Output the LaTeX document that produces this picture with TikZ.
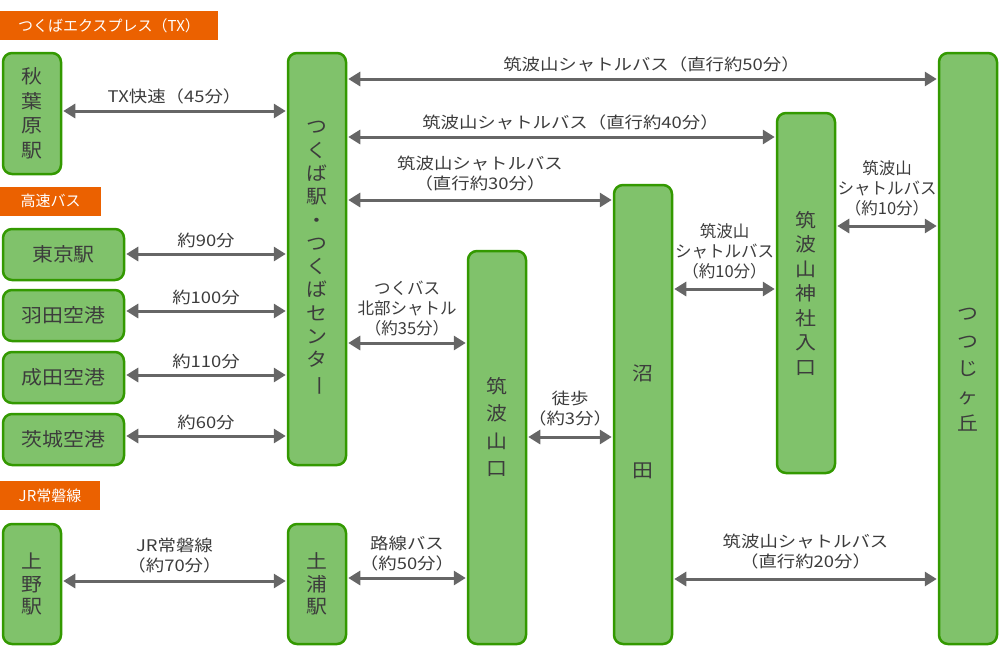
\documentclass[tikz,border=0pt]{standalone}
\usepackage{fontspec}
\setmainfont{Noto Sans CJK JP}
\newfontfamily\notefont{Noto Sans CJK JP}[FakeStretch=1.15]
\newfontfamily\stationfont{Noto Sans CJK JP}[FakeStretch=1.1]
\usepackage{graphicx}
\usetikzlibrary{arrows.meta}
\definecolor{boxgreen}{HTML}{80C26B}
\definecolor{boxedge}{HTML}{339900}
\definecolor{tagorange}{HTML}{EB6100}
\definecolor{arrowgray}{HTML}{666666}
\definecolor{textgray}{HTML}{3C3C3C}
\begin{document}
\begin{tikzpicture}[x=1pt,y=-1pt]
\tikzset{station/.style = {shape=rectangle,rounded corners=9pt,draw=boxedge,fill=boxgreen,line width=2.5pt,text=textgray,inner sep=0pt,align=center,font=\stationfont\fontsize{19}{24.5}\selectfont}}
\tikzset{tall/.style = {station,minimum width=58pt}}
\tikzset{wide/.style = {station,minimum width=121pt,minimum height=51pt}}
\tikzset{stext/.style = {text=textgray,inner sep=0pt,align=center}}
\tikzset{tag/.style = {fill=tagorange,text=white,inner sep=0pt,minimum height=29pt,font=\fontsize{15}{18}\selectfont}}
\tikzset{edge/.style = {<->,> = {Triangle[length=12pt,width=14pt]},draw=arrowgray,line width=3pt,shorten <=1pt,shorten >=1pt}}
\tikzset{note/.style = {text=textgray,inner sep=0pt,above=5pt,align=center,font=\notefont\fontsize{16}{20.5}\selectfont}}
\tikzset{narrownote/.style = {note,font=\fontsize{16.5}{20}\selectfont}}
\useasboundingbox (0,0) rectangle (1000,670);
% line tags
\node[tag,minimum width=218pt] (txtag)  at (109,25.5) {つくばエクスプレス（TX）};
\node[tag,minimum width=101pt] (bustag) at (50.5,201) {高速バス};
\node[tag,minimum width=100pt] (jrtag)  at (50,495.5) {JR常磐線};
% stations
\node[tall,minimum height=121pt] (aki)    at (32,113.5) {秋\\葉\\原\\駅};
\node[tall,minimum height=120pt,font=\stationfont\fontsize{19}{22.5}\selectfont] (ueno) at (32,584) {上\\野\\駅};
\node[tall,minimum height=412pt,font=\stationfont\fontsize{19}{23.3}\selectfont] (tsu) at (317,259)
  {つ\\く\\ば\\駅\\・\\つ\\く\\ば\\セ\\ン\\タ\\\rotatebox[origin=c]{-90}{ー}};
\node[tall,minimum height=120pt,font=\stationfont\fontsize{19}{22.5}\selectfont] (tsuchi) at (317,584) {土\\浦\\駅};
\node[wide] (tokyo)   at (63.5,254.5) {東京駅};
\node[wide] (haneda)  at (63.5,315.5) {羽田空港};
\node[wide] (narita)  at (63.5,377.5) {成田空港};
\node[wide] (ibaraki) at (63.5,439.5) {茨城空港};
\node[tall,minimum height=393pt] (yama)     at (497,447.5) {};
\node[tall,minimum height=459pt] (numata)   at (643,414.5) {};
\node[tall,minimum height=360pt] (jinja)    at (806,293) {筑\\波\\山\\神\\社\\入\\口};
\node[tall,minimum height=591pt] (tsutsuji) at (968,348.5) {};
\node[stext,font=\stationfont\fontsize{19}{27.3}\selectfont] (yamaname) at ([yshift=20.5pt]yama.center) {筑\\波\\山\\口};
\node[stext,font=\stationfont\fontsize{19}{27}\selectfont] (numataname) at ([yshift=-7pt]numata.center) {沼\\[70pt]田};
\node[stext,font=\stationfont\fontsize{19}{27.5}\selectfont] (tsutsujiname) at ([yshift=-21.5pt]tsutsuji.center) {つ\\つ\\じ\\ヶ\\丘};
% connections
\draw[edge] (aki.east |- 0,111) -- node[note] {TX快速（45分）} (tsu.west |- 0,111);
\draw[edge] (tsu.east |- 0,79) -- node[note,xshift=9pt] {筑波山シャトルバス（直行約50分）} (tsutsuji.west |- 0,79);
\draw[edge] (tsu.east |- 0,137) -- node[note,xshift=9pt] {筑波山シャトルバス（直行約40分）} (jinja.west |- 0,137);
\draw[edge] (tsu.east |- 0,200) -- node[note,above=2pt] {筑波山シャトルバス\\（直行約30分）} (numata.west |- 0,200);
\draw[edge] (tokyo.east |- 0,254) -- node[note] {約90分} (tsu.west |- 0,254);
\draw[edge] (haneda.east |- 0,311) -- node[note] {約100分} (tsu.west |- 0,311);
\draw[edge] (narita.east |- 0,375) -- node[note] {約110分} (tsu.west |- 0,375);
\draw[edge] (ibaraki.east |- 0,436) -- node[note] {約60分} (tsu.west |- 0,436);
\draw[edge] (tsu.east |- 0,343) -- node[narrownote] {つくバス\\北部シャトル\\（約35分）} (yama.west |- 0,343);
\draw[edge] (ueno.east |- 0,581) -- node[note,above=1pt] {JR常磐線\\（約70分）} (tsuchi.west |- 0,581);
\draw[edge] (tsuchi.east |- 0,578) -- node[note] {路線バス\\（約50分）} (yama.west |- 0,578);
\draw[edge] (yama.east |- 0,437) -- node[note,above=4pt] {徒歩\\（約3分）} (numata.west |- 0,437);
\draw[edge] (numata.east |- 0,289) -- node[narrownote,above=3pt] {筑波山\\シャトルバス\\（約10分）} (jinja.west |- 0,289);
\draw[edge] (jinja.east |- 0,226) -- node[narrownote,above=3pt] {筑波山\\シャトルバス\\（約10分）} (tsutsuji.west |- 0,226);
\draw[edge] (numata.east |- 0,579) -- node[note,above=3pt] {筑波山シャトルバス\\（直行約20分）} (tsutsuji.west |- 0,579);
\end{tikzpicture}
\end{document}
